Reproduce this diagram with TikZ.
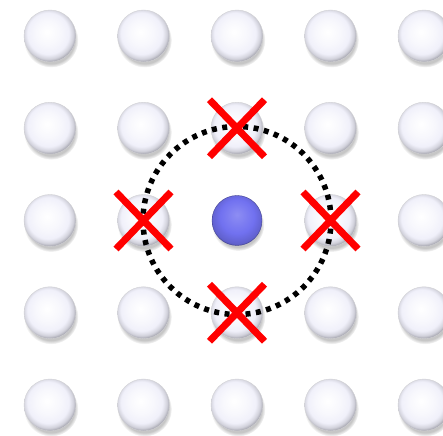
\documentclass[tikz,border=0pt]{standalone}
\usepackage{xcolor}
\usetikzlibrary{shapes.misc,shadows}
\definecolor{ballrim}{HTML}{8E8E97}
\definecolor{balltint}{HTML}{F0F0FA}
\definecolor{atomblue}{HTML}{7171F0}
\definecolor{crossred}{HTML}{FF0000}
\pgfdeclareradialshading{marble}{\pgfpoint{-3bp}{4bp}}{color(0bp)=(white); color(12bp)=(balltint!50!white); color(20bp)=(balltint); color(24bp)=(ballrim!30!balltint); color(28bp)=(ballrim); color(50bp)=(ballrim)}
\pgfdeclareradialshading{bluemarble}{\pgfpoint{0bp}{6bp}}{color(0bp)=(atomblue!80!white); color(10bp)=(atomblue!92!white); color(17bp)=(atomblue); color(26bp)=(atomblue!85!black); color(30bp)=(atomblue!55!black); color(50bp)=(atomblue!55!black)}

\begin{document}
\begin{tikzpicture}[x=1pt,y=1pt,
  site/.style={circle, minimum size=52pt, inner sep=0pt, shading=marble,
    draw=ballrim!40, line width=0.4pt,
    circular drop shadow={shadow xshift=1pt, shadow yshift=-4pt, shadow scale=1.05, opacity=0.45}},
  atom/.style={site, minimum size=50pt, shading=bluemarble, draw=atomblue!60!black},
  blocked/.style={cross out, draw=crossred, line width=7pt,
    minimum width=48pt, minimum height=50pt, inner sep=0pt},
  hop/.style={circle, draw=black, line width=5.5pt, dash pattern=on 5pt off 5.5pt,
    minimum size=188pt, inner sep=0pt}]
  \useasboundingbox (0,0) rectangle (443,435);
  \foreach \c in {1,...,5}
    \foreach \r in {1,...,5}{
      \ifnum\r\c=33 \else
        \node[site] (s\r\c) at ({50+93.5*(\c-1)},{435-36-92.25*(\r-1)}) {};
      \fi
    }
  \node[atom] (s33) at ({50+93.5*2},{435-36-92.25*2}) {};
  \node[hop] (ring) at (s33) {};
  \foreach \n in {s23,s32,s34,s43}
    \node[blocked] (x\n) at (\n) {};
\end{tikzpicture}
\end{document}
